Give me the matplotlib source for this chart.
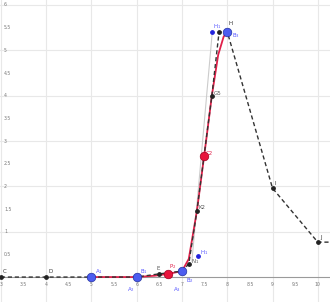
import matplotlib.pyplot as plt
import numpy as np

# dashed black polyline (points C, D, ..., H, I, J)
dash_x = [3, 4, 5, 6, 6.49, 7.0, 7.15, 7.33, 7.66, 7.82, 8.0, 9, 10, 10.4]
dash_y = [0, 0, 0, 0, 0.07, 0.13, 0.29, 1.46, 4.0, 5.41, 5.41, 1.96, 0.77, 0.77]

# red curve
red_x = [5, 6, 6.4, 6.69, 7.0, 7.15, 7.33, 7.49, 7.66, 7.8, 7.92, 8.0]
red_y = [0, 0, 0.03, 0.07, 0.13, 0.4, 1.46, 2.67, 4.0, 4.9, 5.3, 5.41]

# faint gray guide
guide_x = [7.22, 7.67]
guide_y = [0.35, 5.41]

# large blue points
blue_x = [5, 6, 7.0, 8.0]
blue_y = [0, 0, 0.13, 5.41]
# large red points
redpt_x = [6.69, 7.49]
redpt_y = [0.07, 2.67]
# small black points
blk_x = [3, 4, 6.49, 7.15, 7.33, 7.66, 7.82, 9, 10]
blk_y = [0, 0, 0.07, 0.29, 1.46, 4.0, 5.41, 1.96, 0.77]
# small blue points
sblue_x = [7.36, 7.67]
sblue_y = [0.46, 5.41]

labels = [
    ("C", 3.03, 0.1, "#333333"), ("D", 4.05, 0.1, "#333333"),
    ("A$_1$", 5.07, 0.08, "#5555ff"), ("B$_1$", 6.07, 0.08, "#5555ff"),
    ("A$_2$", 5.78, -0.3, "#5555ff"), ("E", 6.43, 0.16, "#555555"),
    ("P$_2$", 6.72, 0.2, "#e0204a"), ("A$_3$", 6.8, -0.3, "#5555ff"),
    ("B$_2$", 7.08, -0.12, "#5555ff"), ("N$_1$", 7.2, 0.3, "#555555"),
    ("H$_1$", 7.4, 0.5, "#5555ff"), ("K2", 7.37, 1.5, "#555555"),
    ("C2", 7.53, 2.7, "#e0204a"), ("G5", 7.7, 4.02, "#555555"),
    ("H$_1$", 7.68, 5.5, "#5555ff"), ("H", 8.02, 5.55, "#333333"),
    ("B$_3$", 8.1, 5.3, "#5555ff"), ("I", 9.05, 2.02, "#333333"),
    ("J", 10.05, 0.83, "#333333"),
]

xticks = np.arange(3, 10.5, 0.5)
yticks = np.arange(0.5, 6.5, 0.5)

fig = plt.figure(figsize=(3.3, 3.02), dpi=100)
ax = fig.add_axes([0, 0, 1, 1])
ax.set_xlim(2.98, 10.27)
ax.set_ylim(-0.55, 6.11)

for v in range(3, 11):
    ax.axvline(v, color="#e8e8e8", lw=0.8, zorder=0)
for v in range(1, 7):
    ax.axhline(v, color="#e8e8e8", lw=0.8, zorder=0)
ax.axhline(0, color="#9a9a9a", lw=0.8, zorder=1)

ax.plot(guide_x, guide_y, color="#cccccc", lw=0.8, zorder=2)
ax.plot(red_x, red_y, color="#e0204a", lw=1.3, zorder=3)
ax.plot(dash_x, dash_y, color="#333333", lw=1.0, ls=(0, (3, 2)), zorder=4)
ax.scatter(blk_x, blk_y, s=6, color="#222222", zorder=5)
ax.scatter(sblue_x, sblue_y, s=6, color="#2222dd", zorder=5)
ax.scatter(redpt_x, redpt_y, s=38, color="#e8143c", edgecolor="#a00020",
           lw=0.5, zorder=6)
ax.scatter(blue_x, blue_y, s=38, color="#4c5cf0", edgecolor="#2030a0",
           lw=0.5, zorder=6)

for txt, x, y, c in labels:
    ax.text(x, y, txt, fontsize=4, color=c, zorder=7)

for t in xticks:
    ax.text(t, -0.17, f"{t:g}", fontsize=3.3, color="#777777",
            ha="center", va="center")
for t in yticks:
    ax.text(3.07, t, f"{t:g}", fontsize=3.3, color="#777777",
            ha="left", va="center")

for s in ax.spines.values():
    s.set_visible(False)
ax.set_xticks([])
ax.set_yticks([])

fig.savefig("out.png", dpi=100)
